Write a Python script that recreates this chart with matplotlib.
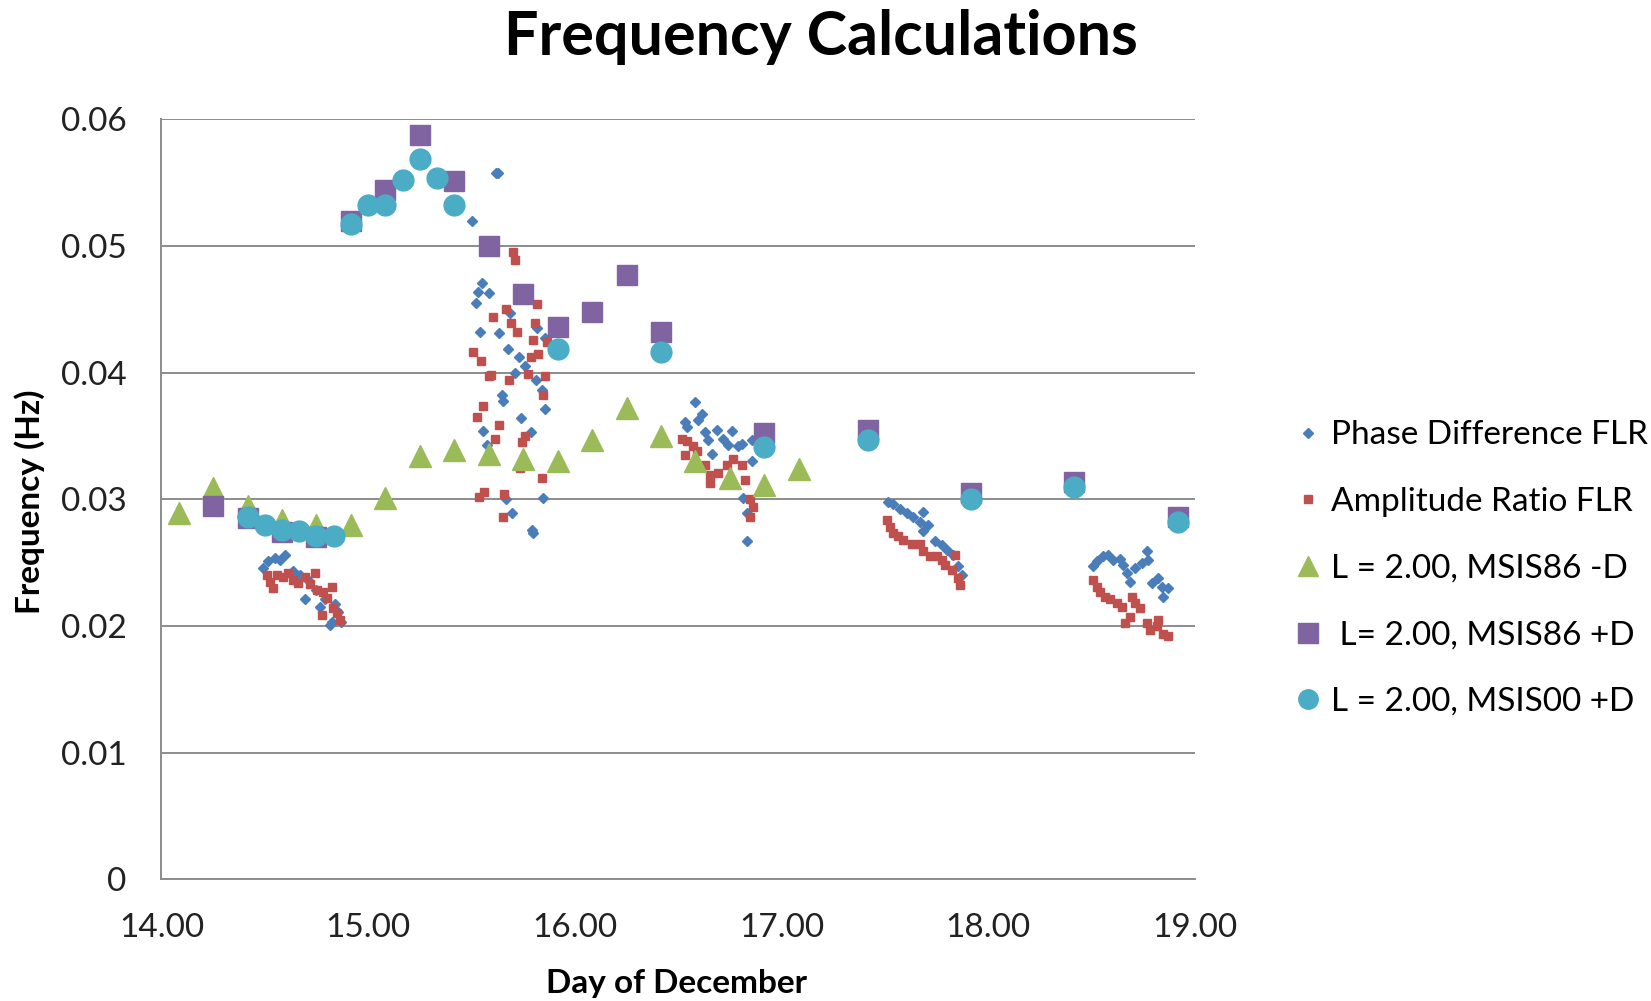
import matplotlib
matplotlib.use("Agg")
import matplotlib.pyplot as plt

plt.rcParams['font.family'] = ['Lato', 'DejaVu Sans']

# Phase Difference FLR (blue diamonds)
phase_day = [14.493, 14.517, 14.549, 14.573, 14.598, 14.638, 14.670, 14.694, 14.710, 14.750,
             14.767, 14.790, 14.839, 14.855, 14.823, 14.815, 14.870,
             15.504, 15.618, 15.630, 15.549, 15.533, 15.586, 15.522, 15.686, 15.541, 15.634,
             15.818, 15.855, 15.678, 15.731, 15.759, 15.710, 15.812, 15.840, 15.646, 15.654,
             15.739, 15.855, 15.557, 15.786, 15.573, 15.667, 15.847, 15.694, 15.791, 15.799,
             16.581, 16.613, 16.597, 16.533, 16.541, 16.629, 16.686, 16.759, 16.645, 16.718,
             16.743, 16.791, 16.807, 16.662, 16.855, 16.855, 16.815, 16.831, 16.831,
             17.516, 17.540, 17.573, 17.605, 17.637, 17.686, 17.670, 17.710, 17.686, 17.743,
             17.775, 17.799, 17.831, 17.855, 17.871,
             18.508, 18.524, 18.556, 18.581, 18.605, 18.637, 18.653, 18.670, 18.686, 18.710,
             18.743, 18.767, 18.774, 18.791, 18.823, 18.839, 18.871, 18.847]
phase_freq = [0.0246, 0.0251, 0.0254, 0.0252, 0.0256, 0.0243, 0.0240, 0.0221, 0.0236, 0.0228,
              0.0215, 0.0221, 0.0217, 0.0211, 0.0203, 0.0201, 0.0203,
              0.0520, 0.0558, 0.0558, 0.0471, 0.0464, 0.0463, 0.0455, 0.0447, 0.0432, 0.0431,
              0.0435, 0.0427, 0.0419, 0.0412, 0.0405, 0.0400, 0.0394, 0.0386, 0.0382, 0.0378,
              0.0364, 0.0371, 0.0354, 0.0353, 0.0343, 0.0300, 0.0301, 0.0289, 0.0276, 0.0273,
              0.0377, 0.0367, 0.0363, 0.0361, 0.0357, 0.0353, 0.0355, 0.0354, 0.0347, 0.0348,
              0.0343, 0.0342, 0.0344, 0.0336, 0.0347, 0.0330, 0.0301, 0.0289, 0.0267,
              0.0298, 0.0296, 0.0292, 0.0289, 0.0286, 0.0290, 0.0282, 0.0280, 0.0275, 0.0267,
              0.0264, 0.0260, 0.0256, 0.0247, 0.0240,
              0.0247, 0.0251, 0.0255, 0.0256, 0.0252, 0.0253, 0.0248, 0.0242, 0.0235, 0.0246,
              0.0250, 0.0259, 0.0252, 0.0234, 0.0238, 0.0231, 0.0230, 0.0223]

# Amplitude Ratio FLR (red squares)
amp_day = [14.509, 14.525, 14.541, 14.557, 14.589, 14.613, 14.638, 14.662, 14.694, 14.718,
           14.743, 14.751, 14.783, 14.799, 14.823, 14.831, 14.848, 14.864, 14.775,
           15.699, 15.710, 15.815, 15.667, 15.605, 15.689, 15.807, 15.718, 15.796, 15.508,
           15.544, 15.823, 15.786, 15.586, 15.593, 15.772, 15.855, 15.683, 15.847, 15.554,
           15.528, 15.634, 15.613, 15.759, 15.743, 15.734, 15.840, 15.560, 15.538, 15.657,
           15.651, 15.863,
           16.517, 16.541, 16.573, 16.533, 16.589, 16.629, 16.654, 16.654, 16.694, 16.734,
           16.766, 16.807, 16.823, 16.847, 16.863, 16.847,
           17.508, 17.524, 17.540, 17.565, 17.589, 17.629, 17.670, 17.686, 17.718, 17.751,
           17.775, 17.791, 17.839, 17.823, 17.855, 17.863,
           18.508, 18.524, 18.540, 18.565, 18.589, 18.621, 18.645, 18.694, 18.710, 18.734,
           18.686, 18.662, 18.767, 18.783, 18.823, 18.815, 18.847, 18.871]
amp_freq = [0.0240, 0.0235, 0.0230, 0.0240, 0.0239, 0.0242, 0.0236, 0.0234, 0.0239, 0.0233,
            0.0242, 0.0228, 0.0227, 0.0222, 0.0231, 0.0214, 0.0210, 0.0205, 0.0209,
            0.0495, 0.0489, 0.0454, 0.0450, 0.0444, 0.0439, 0.0439, 0.0432, 0.0426, 0.0416,
            0.0409, 0.0415, 0.0412, 0.0397, 0.0398, 0.0399, 0.0397, 0.0394, 0.0382, 0.0374,
            0.0365, 0.0359, 0.0348, 0.0350, 0.0345, 0.0325, 0.0317, 0.0306, 0.0302, 0.0304,
            0.0286, 0.0424,
            0.0348, 0.0346, 0.0342, 0.0335, 0.0338, 0.0327, 0.0319, 0.0313, 0.0321, 0.0327,
            0.0332, 0.0327, 0.0315, 0.0300, 0.0294, 0.0286,
            0.0284, 0.0278, 0.0273, 0.0271, 0.0268, 0.0265, 0.0265, 0.0259, 0.0255, 0.0255,
            0.0252, 0.0248, 0.0256, 0.0244, 0.0238, 0.0232,
            0.0236, 0.0231, 0.0227, 0.0223, 0.0221, 0.0218, 0.0215, 0.0223, 0.0218, 0.0214,
            0.0207, 0.0202, 0.0202, 0.0197, 0.0205, 0.0200, 0.0194, 0.0192]

# L = 2.00, MSIS86 -D (green triangles)
msis86m_day = [14.083, 14.250, 14.417, 14.583, 14.750, 14.917, 15.083, 15.250, 15.417, 15.583,
               15.750, 15.917, 16.083, 16.250, 16.417, 16.583, 16.750, 16.917, 17.083]
msis86m_freq = [0.0289, 0.0309, 0.0295, 0.0284, 0.0280, 0.0280, 0.0301, 0.0334, 0.0339, 0.0336,
                0.0332, 0.0330, 0.0347, 0.0372, 0.0350, 0.0330, 0.0317, 0.0311, 0.0324]

# L = 2.00, MSIS86 +D (purple squares)
msis86p_day = [14.250, 14.417, 14.583, 14.750, 14.917, 15.083, 15.250, 15.417, 15.583, 15.750,
               15.917, 16.083, 16.250, 16.417, 16.917, 17.417, 17.917, 18.417, 18.917]
msis86p_freq = [0.0295, 0.0285, 0.0274, 0.0270, 0.0520, 0.0544, 0.0588, 0.0551, 0.0500, 0.0462,
                0.0436, 0.0448, 0.0477, 0.0432, 0.0352, 0.0355, 0.0305, 0.0314, 0.0286]

# L = 2.00, MSIS00 +D (cyan circles)
msis00_day = [14.417, 14.500, 14.583, 14.667, 14.750, 14.833, 14.917, 15.000, 15.083, 15.167,
              15.250, 15.333, 15.417, 15.917, 16.417, 16.917, 17.417, 17.917, 18.417, 18.917]
msis00_freq = [0.0286, 0.0280, 0.0276, 0.0275, 0.0271, 0.0271, 0.0517, 0.0532, 0.0532, 0.0552,
               0.0569, 0.0554, 0.0532, 0.0419, 0.0416, 0.0341, 0.0347, 0.0300, 0.0310, 0.0282]

labels = ["Phase Difference FLR", "Amplitude Ratio FLR", "L = 2.00, MSIS86 -D",
          " L= 2.00, MSIS86 +D", "L = 2.00, MSIS00 +D"]

fig = plt.figure(figsize=(16.51, 10.01), dpi=100)
ax = fig.add_axes([0.0978, 0.1216, 0.6260, 0.7592])

h1, = ax.plot(phase_day, phase_freq, "D", color="#4A7EBB", ms=5.5, mec="#4A7EBB", ls="none")
h2, = ax.plot(amp_day, amp_freq, "s", color="#C0504D", ms=6, mec="#C0504D", ls="none")
h3, = ax.plot(msis86m_day, msis86m_freq, "^", color="#9BBB59", ms=16, mec="#9BBB59", ls="none")
h4, = ax.plot(msis86p_day, msis86p_freq, "s", color="#8064A2", ms=15, mec="#8064A2", ls="none")
h5, = ax.plot(msis00_day, msis00_freq, "o", color="#4BACC6", ms=15, mec="#4BACC6", ls="none")

ax.set_xlim(14, 19)
ax.set_ylim(0, 0.06)
ax.set_xticks([14, 15, 16, 17, 18, 19])
ax.set_xticklabels(["14.00", "15.00", "16.00", "17.00", "18.00", "19.00"])
ax.set_yticks([0, 0.01, 0.02, 0.03, 0.04, 0.05, 0.06])
ax.set_yticklabels(["0", "0.01", "0.02", "0.03", "0.04", "0.05", "0.06"])
ax.tick_params(axis="both", length=0, labelsize=24, colors="#222222")
ax.tick_params(axis="y", pad=25)
ax.tick_params(axis="x", pad=24)

ax.grid(axis="y", color="#8C8C8C", linewidth=1.4)
ax.set_axisbelow(True)
for s in ["top", "right"]:
    ax.spines[s].set_visible(False)
for s in ["left", "bottom"]:
    ax.spines[s].set_color("#8C8C8C")
    ax.spines[s].set_linewidth(1.4)

fig.text(0.497, 0.963, "Frequency Calculations", ha="center", va="center",
         fontsize=44, fontweight="bold")
fig.text(0.410, 0.017, "Day of December", ha="center", va="center",
         fontsize=24, fontweight="bold")
fig.text(0.018, 0.499, "Frequency (Hz)", ha="center", va="center", rotation=90,
         fontsize=24, fontweight="bold")

leg = fig.legend([h1, h2, h3, h4, h5], labels, loc="center left",
                 bbox_to_anchor=(0.764, 0.432), frameon=False, fontsize=24,
                 labelspacing=1.1, handletextpad=0.2, handlelength=1.0,
                 markerscale=1.0)
for lh, ms in zip(leg.legend_handles, [5.5, 6, 14, 14, 14]):
    lh.set_markersize(ms)

plt.savefig("out.png", dpi=100)
